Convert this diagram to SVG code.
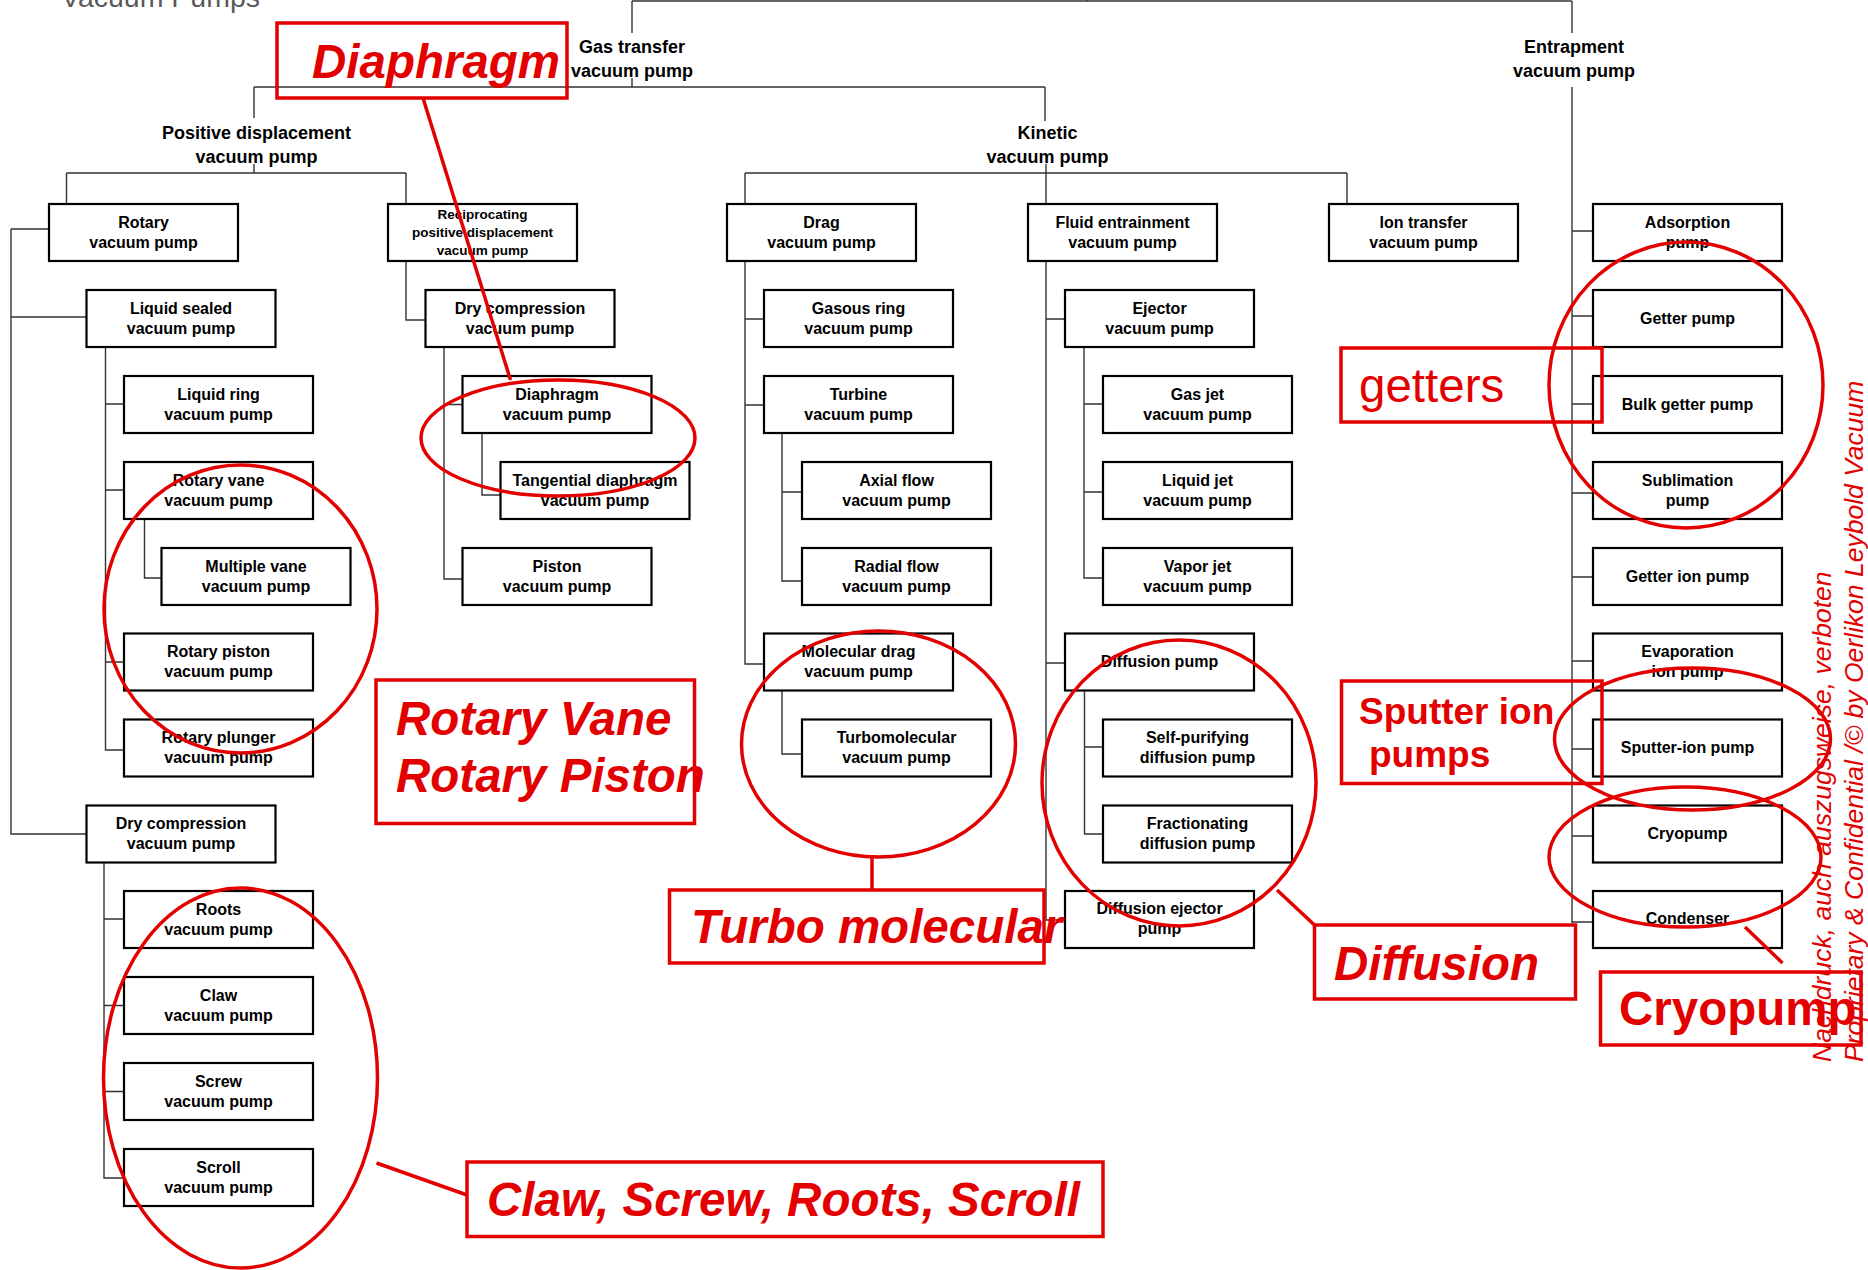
<svg xmlns="http://www.w3.org/2000/svg" width="1868" height="1270" viewBox="0 0 1868 1270">
  <style>
    .bx rect { fill: #fff; stroke: #000; stroke-width: 2.2; }
    .bx text { font-family: "Liberation Sans", Arial, sans-serif; font-weight: bold; font-size: 16px; text-anchor: middle; fill: #000; }
    .bx text.sm { font-size: 13.5px; }
    .lbl { font-family: "Liberation Sans", Arial, sans-serif; font-weight: bold; font-size: 18px; text-anchor: middle; fill: #000; }
    .conn path { fill: none; stroke: #333; stroke-width: 1.4; }
    .note rect, .note ellipse, .note line { fill: none; stroke: #e30000; stroke-width: 3.5; }
    .note text { font-family: "Liberation Sans", Arial, sans-serif; fill: #e30000; font-size: 47.5px; }
    .note text.bi { font-weight: bold; font-style: italic; }
    .note text.b { font-weight: bold; }
    .note text.mid { font-weight: bold; font-size: 37px; }
    .legal { font-family: "Liberation Sans", Arial, sans-serif; font-style: italic; font-size: 26.5px; fill: #e30000; }
  </style>

  <!-- page title, partly cut off at the top edge -->
  <text x="61" y="7" font-family="'Liberation Sans', Arial, sans-serif" font-size="28.5" fill="#595959">Vacuum Pumps</text>

  <!-- tree connectors -->
  <g id="connectors" class="conn">
    <!-- root level -->
    <path d="M632,1 H1572 M1087,-10 V1 M632,1 V33 M1572,1 V33"/>
    <!-- gas transfer branch -->
    <path d="M632,78 V87 M254,87 H1045 M254,87 V118 M1045,87 V121"/>
    <!-- positive displacement branch -->
    <path d="M254,164 V173 M66.5,173 H406 M66.5,173 V204 M406,173 V204"/>
    <!-- kinetic branch -->
    <path d="M1046,164 V204 M745,173 H1347 M745,173 V204 M1347,173 V204"/>
    <!-- entrapment branch -->
    <path d="M1572,87 V923 M1572,231 H1593 M1572,316 H1593 M1572,404 H1593 M1572,493 H1593 M1572,577 H1593 M1572,661 H1593 M1572,749 H1593 M1572,836 H1593 M1572,922 H1593"/>
    <!-- rotary -->
    <path d="M11,229 H49 M11,229 V834 H86.5 M11,317 H86.5"/>
    <path d="M105.5,347 V750 H124 M105.5,404 H124 M105.5,490 H124 M105.5,662 H124"/>
    <path d="M144.5,519 V578 H161.5"/>
    <path d="M104,862.5 V1178 H124 M104,919 H124 M104,1005.5 H124 M104,1091.5 H124"/>
    <!-- reciprocating -->
    <path d="M406,261 V320 H425.5"/>
    <path d="M444,347 V579 H462.5 M444,404.5 H462.5"/>
    <path d="M482,433 V495 H500.5"/>
    <!-- drag -->
    <path d="M745,261 V664 H764 M745,319 H764 M745,405 H764"/>
    <path d="M782,433 V581 H802 M782,492 H802"/>
    <path d="M782,690.5 V754 H802"/>
    <!-- fluid entrainment -->
    <path d="M1046,261 V920 H1065 M1046,319 H1065 M1046,663 H1065"/>
    <path d="M1084,347 V578 H1103 M1084,404 H1103 M1084,492 H1103"/>
    <path d="M1084.5,690.5 V834 H1103 M1084.5,747 H1103"/>
  </g>

  <!-- category labels -->
  <g id="gas-transfer"><text class="lbl" x="632" y="53">Gas transfer</text><text class="lbl" x="632" y="77">vacuum pump</text></g>
  <g id="entrapment"><text class="lbl" x="1574" y="53">Entrapment</text><text class="lbl" x="1574" y="77">vacuum pump</text></g>
  <g id="positive-displacement"><text class="lbl" x="256.5" y="139">Positive displacement</text><text class="lbl" x="256.5" y="163">vacuum pump</text></g>
  <g id="kinetic"><text class="lbl" x="1047.5" y="139">Kinetic</text><text class="lbl" x="1047.5" y="163">vacuum pump</text></g>

  <!-- positive displacement pumps -->
  <g id="rotary" class="bx"><rect x="49" y="204" width="189" height="57"/><text x="143.5" y="227.5">Rotary</text><text x="143.5" y="247.5">vacuum pump</text></g>
  <g id="liquid-sealed" class="bx"><rect x="86.5" y="290" width="189" height="57"/><text x="181" y="313.5">Liquid sealed</text><text x="181" y="333.5">vacuum pump</text></g>
  <g id="liquid-ring" class="bx"><rect x="124" y="376" width="189" height="57"/><text x="218.5" y="399.5">Liquid ring</text><text x="218.5" y="419.5">vacuum pump</text></g>
  <g id="rotary-vane" class="bx"><rect x="124" y="462" width="189" height="57"/><text x="218.5" y="485.5">Rotary vane</text><text x="218.5" y="505.5">vacuum pump</text></g>
  <g id="multiple-vane" class="bx"><rect x="161.5" y="548" width="189" height="57"/><text x="256" y="571.5">Multiple vane</text><text x="256" y="591.5">vacuum pump</text></g>
  <g id="rotary-piston" class="bx"><rect x="124" y="633.5" width="189" height="57"/><text x="218.5" y="657">Rotary piston</text><text x="218.5" y="677">vacuum pump</text></g>
  <g id="rotary-plunger" class="bx"><rect x="124" y="719.5" width="189" height="57"/><text x="218.5" y="743">Rotary plunger</text><text x="218.5" y="763">vacuum pump</text></g>
  <g id="dry-compression-rotary" class="bx"><rect x="86.5" y="805.5" width="189" height="57"/><text x="181" y="829">Dry compression</text><text x="181" y="849">vacuum pump</text></g>
  <g id="roots" class="bx"><rect x="124" y="891" width="189" height="57"/><text x="218.5" y="914.5">Roots</text><text x="218.5" y="934.5">vacuum pump</text></g>
  <g id="claw" class="bx"><rect x="124" y="977" width="189" height="57"/><text x="218.5" y="1000.5">Claw</text><text x="218.5" y="1020.5">vacuum pump</text></g>
  <g id="screw" class="bx"><rect x="124" y="1063" width="189" height="57"/><text x="218.5" y="1086.5">Screw</text><text x="218.5" y="1106.5">vacuum pump</text></g>
  <g id="scroll" class="bx"><rect x="124" y="1149" width="189" height="57"/><text x="218.5" y="1172.5">Scroll</text><text x="218.5" y="1192.5">vacuum pump</text></g>

  <g id="reciprocating" class="bx"><rect x="388" y="204" width="189" height="57"/><text class="sm" x="482.5" y="219">Reciprocating</text><text class="sm" x="482.5" y="237">positive displacement</text><text class="sm" x="482.5" y="255">vacuum pump</text></g>
  <g id="dry-compression-recip" class="bx"><rect x="425.5" y="290" width="189" height="57"/><text x="520" y="313.5">Dry compression</text><text x="520" y="333.5">vacuum pump</text></g>
  <g id="diaphragm" class="bx"><rect x="462.5" y="376" width="189" height="57"/><text x="557" y="399.5">Diaphragm</text><text x="557" y="419.5">vacuum pump</text></g>
  <g id="tangential-diaphragm" class="bx"><rect x="500.5" y="462" width="189" height="57"/><text x="595" y="485.5">Tangential diaphragm</text><text x="595" y="505.5">vacuum pump</text></g>
  <g id="piston" class="bx"><rect x="462.5" y="548" width="189" height="57"/><text x="557" y="571.5">Piston</text><text x="557" y="591.5">vacuum pump</text></g>

  <!-- kinetic pumps -->
  <g id="drag" class="bx"><rect x="727" y="204" width="189" height="57"/><text x="821.5" y="227.5">Drag</text><text x="821.5" y="247.5">vacuum pump</text></g>
  <g id="gasous-ring" class="bx"><rect x="764" y="290" width="189" height="57"/><text x="858.5" y="313.5">Gasous ring</text><text x="858.5" y="333.5">vacuum pump</text></g>
  <g id="turbine" class="bx"><rect x="764" y="376" width="189" height="57"/><text x="858.5" y="399.5">Turbine</text><text x="858.5" y="419.5">vacuum pump</text></g>
  <g id="axial-flow" class="bx"><rect x="802" y="462" width="189" height="57"/><text x="896.5" y="485.5">Axial flow</text><text x="896.5" y="505.5">vacuum pump</text></g>
  <g id="radial-flow" class="bx"><rect x="802" y="548" width="189" height="57"/><text x="896.5" y="571.5">Radial flow</text><text x="896.5" y="591.5">vacuum pump</text></g>
  <g id="molecular-drag" class="bx"><rect x="764" y="633.5" width="189" height="57"/><text x="858.5" y="657">Molecular drag</text><text x="858.5" y="677">vacuum pump</text></g>
  <g id="turbomolecular" class="bx"><rect x="802" y="719.5" width="189" height="57"/><text x="896.5" y="743">Turbomolecular</text><text x="896.5" y="763">vacuum pump</text></g>

  <g id="fluid-entrainment" class="bx"><rect x="1028" y="204" width="189" height="57"/><text x="1122.5" y="227.5">Fluid entrainment</text><text x="1122.5" y="247.5">vacuum pump</text></g>
  <g id="ejector" class="bx"><rect x="1065" y="290" width="189" height="57"/><text x="1159.5" y="313.5">Ejector</text><text x="1159.5" y="333.5">vacuum pump</text></g>
  <g id="gas-jet" class="bx"><rect x="1103" y="376" width="189" height="57"/><text x="1197.5" y="399.5">Gas jet</text><text x="1197.5" y="419.5">vacuum pump</text></g>
  <g id="liquid-jet" class="bx"><rect x="1103" y="462" width="189" height="57"/><text x="1197.5" y="485.5">Liquid jet</text><text x="1197.5" y="505.5">vacuum pump</text></g>
  <g id="vapor-jet" class="bx"><rect x="1103" y="548" width="189" height="57"/><text x="1197.5" y="571.5">Vapor jet</text><text x="1197.5" y="591.5">vacuum pump</text></g>
  <g id="diffusion-pump" class="bx"><rect x="1065" y="633.5" width="189" height="57"/><text x="1159.5" y="667">Diffusion pump</text></g>
  <g id="self-purifying" class="bx"><rect x="1103" y="719.5" width="189" height="57"/><text x="1197.5" y="743">Self-purifying</text><text x="1197.5" y="763">diffusion pump</text></g>
  <g id="fractionating" class="bx"><rect x="1103" y="805.5" width="189" height="57"/><text x="1197.5" y="829">Fractionating</text><text x="1197.5" y="849">diffusion pump</text></g>
  <g id="diffusion-ejector" class="bx"><rect x="1065" y="891" width="189" height="57"/><text x="1159.5" y="913.5">Diffusion ejector</text><text x="1159.5" y="933.5">pump</text></g>

  <g id="ion-transfer" class="bx"><rect x="1329" y="204" width="189" height="57"/><text x="1423.5" y="227.5">Ion transfer</text><text x="1423.5" y="247.5">vacuum pump</text></g>

  <!-- entrapment pumps -->
  <g id="adsorption" class="bx"><rect x="1593" y="204" width="189" height="57"/><text x="1687.5" y="227.5">Adsorption</text><text x="1687.5" y="247.5">pump</text></g>
  <g id="getter" class="bx"><rect x="1593" y="290" width="189" height="57"/><text x="1687.5" y="323.5">Getter pump</text></g>
  <g id="bulk-getter" class="bx"><rect x="1593" y="376" width="189" height="57"/><text x="1687.5" y="409.5">Bulk getter pump</text></g>
  <g id="sublimation" class="bx"><rect x="1593" y="462" width="189" height="57"/><text x="1687.5" y="485.5">Sublimation</text><text x="1687.5" y="505.5">pump</text></g>
  <g id="getter-ion" class="bx"><rect x="1593" y="548" width="189" height="57"/><text x="1687.5" y="581.5">Getter ion pump</text></g>
  <g id="evaporation-ion" class="bx"><rect x="1593" y="633.5" width="189" height="57"/><text x="1687.5" y="657">Evaporation</text><text x="1687.5" y="677">ion pump</text></g>
  <g id="sputter-ion" class="bx"><rect x="1593" y="719.5" width="189" height="57"/><text x="1687.5" y="753">Sputter-ion pump</text></g>
  <g id="cryopump" class="bx"><rect x="1593" y="805.5" width="189" height="57"/><text x="1687.5" y="839">Cryopump</text></g>
  <g id="condenser" class="bx"><rect x="1593" y="891" width="189" height="57"/><text x="1687.5" y="924">Condenser</text></g>

  <!-- red markup on top of the chart -->
  <g id="notes" class="note">
    <rect x="277" y="23" width="290" height="75"/>
    <text class="bi" x="312" y="78">Diaphragm</text>
    <line x1="423" y1="98" x2="510.5" y2="380"/>
    <ellipse cx="558" cy="438" rx="137" ry="58"/>

    <ellipse cx="240.5" cy="609" rx="136.5" ry="144"/>
    <rect x="376" y="680" width="318.5" height="143.5"/>
    <text class="bi" x="396" y="735">Rotary Vane</text>
    <text class="bi" x="396" y="792">Rotary Piston</text>

    <ellipse cx="240.5" cy="1078" rx="137" ry="190"/>
    <line x1="376.5" y1="1163" x2="467" y2="1195"/>
    <rect x="467" y="1162" width="636" height="74.5"/>
    <text class="bi" x="487" y="1216">Claw, Screw, Roots, Scroll</text>

    <ellipse cx="878.5" cy="744" rx="137" ry="113"/>
    <line x1="872" y1="857" x2="872" y2="890"/>
    <rect x="669.5" y="890" width="374.5" height="73"/>
    <text class="bi" x="691" y="943">Turbo molecular</text>

    <ellipse cx="1179" cy="783" rx="137" ry="143"/>
    <line x1="1277" y1="890" x2="1314.5" y2="925"/>
    <rect x="1314.5" y="925" width="261" height="74"/>
    <text class="bi" x="1334" y="980">Diffusion</text>

    <rect x="1341" y="348" width="261" height="74"/>
    <text x="1359" y="402">getters</text>
    <ellipse cx="1686" cy="385" rx="137" ry="143"/>

    <rect x="1341.5" y="681" width="260.5" height="102.5"/>
    <text class="mid" x="1359" y="724">Sputter ion</text>
    <text class="mid" x="1369" y="767">pumps</text>
    <ellipse cx="1692.5" cy="739" rx="138" ry="71"/>

    <ellipse cx="1685" cy="857" rx="136" ry="70"/>
    <line x1="1745" y1="927" x2="1782.5" y2="963"/>
    <rect x="1600.5" y="972" width="260.5" height="73"/>
    <text class="b" x="1619" y="1025">Cryopump</text>
  </g>

  <!-- vertical copyright notice -->
  <g id="legal">
    <text class="legal" transform="translate(1831,1062) rotate(-90)">Nachdruck, auch auszugsweise, verboten</text>
    <text class="legal" transform="translate(1863,1062) rotate(-90)">Proprietary &amp; Confidential /© by Oerlikon Leybold Vacuum</text>
  </g>
</svg>
